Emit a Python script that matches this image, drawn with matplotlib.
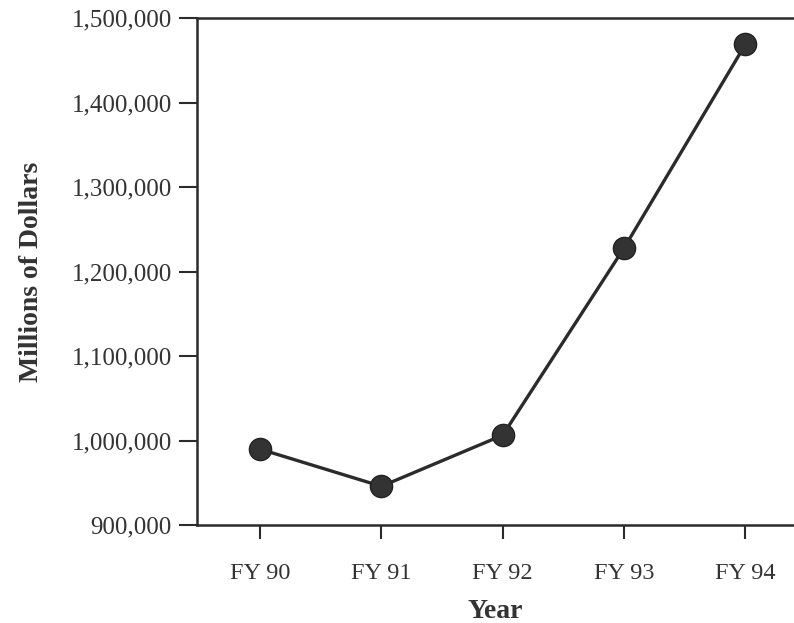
import matplotlib
matplotlib.use('Agg')
import matplotlib.pyplot as plt
from matplotlib.ticker import FuncFormatter

years = ['FY 90', 'FY 91', 'FY 92', 'FY 93', 'FY 94']
dollars = [990000, 946000, 1006500, 1228000, 1469000]
y_ticks = [900000, 1000000, 1100000, 1200000, 1300000, 1400000, 1500000]

plt.rcParams['font.family'] = 'Liberation Serif'
ink = '#2b2b2b'

fig = plt.figure(figsize=(7.94, 6.23), dpi=100)
ax = fig.add_axes([0.248, 0.157, 0.752, 0.814])

x = list(range(len(years)))
ax.plot(x, dollars, color=ink, lw=2.4, marker='o', ms=16,
        markerfacecolor='#333333', markeredgecolor='#222222', zorder=3, clip_on=False)

ax.set_xlim(-0.52, 4.40)
ax.set_ylim(900000, 1500000)
ax.set_xticks(x)
ax.set_xticklabels(years)
ax.set_yticks(y_ticks)
ax.yaxis.set_major_formatter(FuncFormatter(lambda v, p: f'{int(v):,}'))

ax.spines['right'].set_visible(False)
for side in ['left', 'top', 'bottom']:
    ax.spines[side].set_linewidth(1.8)
    ax.spines[side].set_color(ink)

ax.tick_params(axis='y', length=13, width=1.5, color=ink, labelsize=18,
               labelcolor='#333333', pad=5)
ax.tick_params(axis='x', length=10, width=1.5, color=ink, labelsize=17.5,
               labelcolor='#333333', pad=17)

ax.set_ylabel('Millions of Dollars', fontsize=20, fontweight='bold', color='#333333', labelpad=20)
ax.set_xlabel('Year', fontsize=20, fontweight='bold', color='#333333', labelpad=11)

fig.savefig('out.png', dpi=100)
